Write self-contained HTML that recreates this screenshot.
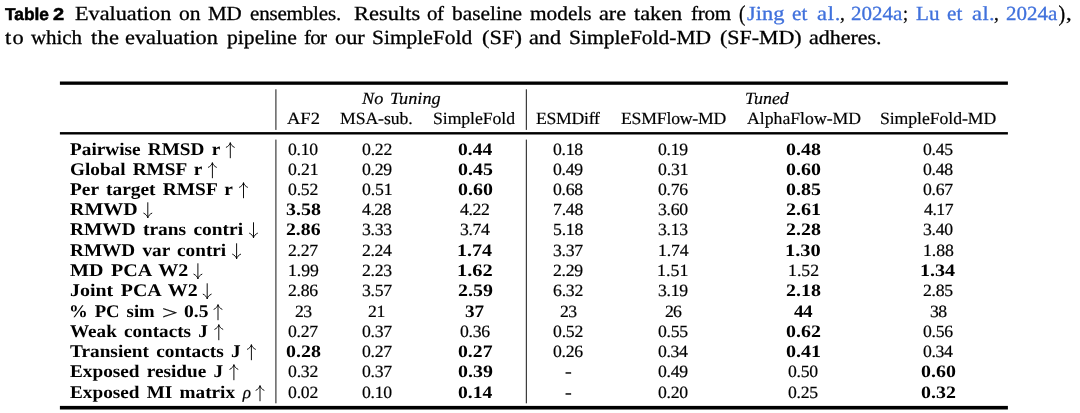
<!DOCTYPE html>
<html><head><meta charset="utf-8"><title>Table 2</title>
<style>
html,body{margin:0;padding:0;background:#fff;}
body{width:1080px;height:413px;position:relative;overflow:hidden;font-family:"Liberation Serif",serif;color:#000;}
.t{position:absolute;white-space:pre;line-height:1;transform-origin:0 50%;-webkit-text-stroke:0.2px currentColor;text-rendering:geometricPrecision;}
.c{-webkit-text-stroke:0.3px currentColor;}
.b{font-weight:bold;-webkit-text-stroke:0;}
.i{font-style:italic;}
.s{font-family:"Liberation Sans",sans-serif;-webkit-text-stroke:0.5px currentColor;}
.ln{position:absolute;background:#000;}
svg{position:absolute;overflow:visible;}
#w{position:absolute;left:0;top:0;width:1080px;height:413px;will-change:transform;}
</style></head><body><div id="w">
<div class="t b s" style="left:4.95px;top:6px;font-size:17.2px;transform:scaleX(1.0082);">Table</div>
<div class="t b s" style="left:53.02px;top:6px;font-size:17.2px;transform:scaleX(1.1647);">2</div>
<div class="t c" style="left:74.94px;top:4px;font-size:20px;transform:scaleX(1.1108);">Evaluation</div>
<div class="t c" style="left:178.69px;top:4px;font-size:20px;transform:scaleX(1.0789);">on</div>
<div class="t c" style="left:208.22px;top:4px;font-size:20px;letter-spacing:-0.048px;transform:scaleX(1.0500);">MD</div>
<div class="t c" style="left:249.71px;top:4px;font-size:20px;letter-spacing:-0.165px;transform:scaleX(1.0500);">ensembles.</div>
<div class="t c" style="left:353.94px;top:4px;font-size:20px;letter-spacing:0.048px;transform:scaleX(1.1200);">Results</div>
<div class="t c" style="left:426.71px;top:4px;font-size:20px;letter-spacing:-0.524px;transform:scaleX(1.0500);">of</div>
<div class="t c" style="left:452.00px;top:4px;font-size:20px;transform:scaleX(1.0695);">baseline</div>
<div class="t c" style="left:529.67px;top:4px;font-size:20px;transform:scaleX(1.0673);">models</div>
<div class="t c" style="left:598.67px;top:4px;font-size:20px;transform:scaleX(1.1087);">are</div>
<div class="t c" style="left:634.22px;top:4px;font-size:20px;transform:scaleX(1.1111);">taken</div>
<div class="t c" style="left:690.73px;top:4px;font-size:20px;letter-spacing:-0.206px;transform:scaleX(1.0500);">from</div>
<div class="t c" style="left:739.29px;top:4px;font-size:20px;transform:scale(0.9524,1.130);transform-origin:0 10.8px;">(</div>
<div class="t c" style="left:747.44px;top:4px;font-size:20px;letter-spacing:0.060px;transform:scaleX(1.1200);color:#4071dc;">Jing</div>
<div class="t c" style="left:792.21px;top:4px;font-size:20px;transform:scaleX(1.0593);color:#4071dc;">et</div>
<div class="t c" style="left:816.56px;top:4px;font-size:20px;letter-spacing:0.705px;transform:scaleX(1.1200);color:#4071dc;">al.</div>
<div class="t c" style="left:839.57px;top:4px;font-size:20px;transform:scaleX(0.9667);">,</div>
<div class="t c" style="left:851.01px;top:4px;font-size:20px;transform:scaleX(1.0513);color:#4071dc;">2024a</div>
<div class="t c" style="left:902.60px;top:4px;font-size:20px;transform:scaleX(0.9000);">;</div>
<div class="t c" style="left:915.87px;top:4px;font-size:20px;transform:scaleX(1.0541);color:#4071dc;">Lu</div>
<div class="t c" style="left:947.21px;top:4px;font-size:20px;transform:scaleX(1.0593);color:#4071dc;">et</div>
<div class="t c" style="left:971.56px;top:4px;font-size:20px;letter-spacing:0.393px;transform:scaleX(1.1200);color:#4071dc;">al.</div>
<div class="t c" style="left:993.77px;top:4px;font-size:20px;transform:scaleX(0.9667);">,</div>
<div class="t c" style="left:1006.01px;top:4px;font-size:20px;transform:scaleX(1.0513);color:#4071dc;">2024a</div>
<div class="t c" style="left:1058.55px;top:4px;font-size:20px;transform:scale(1.0000,1.130);transform-origin:0 10.8px;">)</div>
<div class="t c" style="left:1066.35px;top:4px;font-size:20px;transform:scaleX(1.1333);">,</div>
<div class="t c" style="left:5.32px;top:28px;font-size:20px;letter-spacing:1.125px;transform:scaleX(1.1200);">to</div>
<div class="t c" style="left:31.25px;top:28px;font-size:20px;letter-spacing:-0.065px;transform:scaleX(1.0500);">which</div>
<div class="t c" style="left:90.97px;top:28px;font-size:20px;letter-spacing:0.237px;transform:scaleX(1.1200);">the</div>
<div class="t c" style="left:125.41px;top:28px;font-size:20px;transform:scaleX(1.1155);">evaluation</div>
<div class="t c" style="left:227.23px;top:28px;font-size:20px;transform:scaleX(1.0827);">pipeline</div>
<div class="t c" style="left:303.98px;top:28px;font-size:20px;letter-spacing:-0.661px;transform:scaleX(1.0500);">for</div>
<div class="t c" style="left:335.41px;top:28px;font-size:20px;transform:scaleX(1.1165);">our</div>
<div class="t c" style="left:372.41px;top:28px;font-size:20px;transform:scaleX(1.0734);">SimpleFold</div>
<div class="t c" style="left:482.16px;top:28px;font-size:20px;letter-spacing:0.051px;transform:scaleX(1.1200);">(SF)</div>
<div class="t c" style="left:529.17px;top:28px;font-size:20px;transform:scaleX(1.1071);">and</div>
<div class="t c" style="left:568.66px;top:28px;font-size:20px;transform:scaleX(1.0749);">SimpleFold-MD</div>
<div class="t c" style="left:720.43px;top:28px;font-size:20px;transform:scaleX(1.0962);">(SF-MD)</div>
<div class="t c" style="left:809.38px;top:28px;font-size:20px;transform:scaleX(1.0984);">adheres.</div>
<div class="t i" style="left:362.00px;top:90px;font-size:17.2px;word-spacing:2px;transform:scaleX(1.0612);">No Tuning</div>
<div class="t i" style="left:744.95px;top:90px;font-size:17.2px;transform:scaleX(1.0429);">Tuned</div>
<div class="t" style="left:287.23px;top:110px;font-size:17.2px;transform:scaleX(1.0763);">AF2</div>
<div class="t" style="left:340.24px;top:110px;font-size:17.2px;letter-spacing:-0.081px;transform:scaleX(1.0300);">MSA-sub.</div>
<div class="t" style="left:433.21px;top:110px;font-size:17.2px;letter-spacing:-0.066px;transform:scaleX(1.0300);">SimpleFold</div>
<div class="t" style="left:536.49px;top:110px;font-size:17.2px;letter-spacing:-0.267px;transform:scaleX(1.0300);">ESMDiff</div>
<div class="t" style="left:620.74px;top:110px;font-size:17.2px;letter-spacing:-0.198px;transform:scaleX(1.0300);">ESMFlow-MD</div>
<div class="t" style="left:746.74px;top:110px;font-size:17.2px;transform:scaleX(1.0300);">AlphaFlow-MD</div>
<div class="t" style="left:879.96px;top:110px;font-size:17.2px;letter-spacing:-0.069px;transform:scaleX(1.0300);">SimpleFold-MD</div>
<div class="t b" style="left:70.23px;top:141px;font-size:17.8px;word-spacing:2.2px;transform:scaleX(1.0826);">Pairwise RMSD r</div>
<div class="t" style="left:288.28px;top:141px;font-size:17.2px;letter-spacing:-0.295px;transform:scaleX(1.0300);">0.10</div>
<div class="t" style="left:361.98px;top:141px;font-size:17.2px;letter-spacing:-0.212px;transform:scaleX(1.0300);">0.22</div>
<div class="t b" style="left:457.56px;top:141px;font-size:17.4px;transform:scaleX(1.1254);">0.44</div>
<div class="t" style="left:553.48px;top:141px;font-size:17.2px;letter-spacing:-0.295px;transform:scaleX(1.0300);">0.18</div>
<div class="t" style="left:658.28px;top:141px;font-size:17.2px;letter-spacing:-0.295px;transform:scaleX(1.0300);">0.19</div>
<div class="t b" style="left:786.14px;top:141px;font-size:17.4px;transform:scaleX(1.1448);">0.48</div>
<div class="t" style="left:923.28px;top:141px;font-size:17.2px;letter-spacing:-0.295px;transform:scaleX(1.0300);">0.45</div>
<div class="t b" style="left:69.69px;top:161px;font-size:17.8px;word-spacing:2.2px;transform:scaleX(1.0812);">Global RMSF r</div>
<div class="t" style="left:288.28px;top:161px;font-size:17.2px;letter-spacing:-0.129px;transform:scaleX(1.0300);">0.21</div>
<div class="t" style="left:361.98px;top:161px;font-size:17.2px;letter-spacing:-0.295px;transform:scaleX(1.0300);">0.29</div>
<div class="t b" style="left:457.54px;top:161px;font-size:17.4px;transform:scaleX(1.1448);">0.45</div>
<div class="t" style="left:553.48px;top:161px;font-size:17.2px;letter-spacing:-0.295px;transform:scaleX(1.0300);">0.49</div>
<div class="t" style="left:658.28px;top:161px;font-size:17.2px;letter-spacing:-0.129px;transform:scaleX(1.0300);">0.31</div>
<div class="t b" style="left:786.14px;top:161px;font-size:17.4px;transform:scaleX(1.1448);">0.60</div>
<div class="t" style="left:923.28px;top:161px;font-size:17.2px;letter-spacing:-0.295px;transform:scaleX(1.0300);">0.48</div>
<div class="t b" style="left:70.23px;top:181px;font-size:17.8px;word-spacing:2.2px;transform:scaleX(1.0911);">Per target RMSF r</div>
<div class="t" style="left:288.28px;top:181px;font-size:17.2px;letter-spacing:-0.212px;transform:scaleX(1.0300);">0.52</div>
<div class="t" style="left:361.98px;top:181px;font-size:17.2px;letter-spacing:-0.129px;transform:scaleX(1.0300);">0.51</div>
<div class="t b" style="left:457.54px;top:181px;font-size:17.4px;transform:scaleX(1.1448);">0.60</div>
<div class="t" style="left:553.48px;top:181px;font-size:17.2px;letter-spacing:-0.295px;transform:scaleX(1.0300);">0.68</div>
<div class="t" style="left:658.28px;top:181px;font-size:17.2px;letter-spacing:-0.295px;transform:scaleX(1.0300);">0.76</div>
<div class="t b" style="left:786.14px;top:181px;font-size:17.4px;transform:scaleX(1.1448);">0.85</div>
<div class="t" style="left:923.28px;top:181px;font-size:17.2px;letter-spacing:-0.295px;transform:scaleX(1.0300);">0.67</div>
<div class="t b" style="left:70.22px;top:201px;font-size:17.8px;word-spacing:2.2px;transform:scaleX(1.1237);">RMWD</div>
<div class="t b" style="left:285.94px;top:201px;font-size:17.4px;transform:scaleX(1.1448);">3.58</div>
<div class="t" style="left:362.49px;top:201px;font-size:17.2px;letter-spacing:-0.462px;transform:scaleX(1.0300);">4.28</div>
<div class="t" style="left:460.39px;top:201px;font-size:17.2px;letter-spacing:-0.379px;transform:scaleX(1.0300);">4.22</div>
<div class="t" style="left:553.22px;top:201px;font-size:17.2px;letter-spacing:-0.212px;transform:scaleX(1.0300);">7.48</div>
<div class="t" style="left:658.28px;top:201px;font-size:17.2px;letter-spacing:-0.295px;transform:scaleX(1.0300);">3.60</div>
<div class="t b" style="left:786.13px;top:201px;font-size:17.4px;transform:scaleX(1.1548);">2.61</div>
<div class="t" style="left:923.79px;top:201px;font-size:17.2px;letter-spacing:-0.462px;transform:scaleX(1.0300);">4.17</div>
<div class="t b" style="left:70.23px;top:221px;font-size:17.8px;word-spacing:2.2px;transform:scaleX(1.0918);">RMWD trans contri</div>
<div class="t b" style="left:285.95px;top:221px;font-size:17.4px;transform:scaleX(1.1350);">2.86</div>
<div class="t" style="left:361.98px;top:221px;font-size:17.2px;letter-spacing:-0.295px;transform:scaleX(1.0300);">3.33</div>
<div class="t" style="left:459.88px;top:221px;font-size:17.2px;letter-spacing:-0.379px;transform:scaleX(1.0300);">3.74</div>
<div class="t" style="left:553.22px;top:221px;font-size:17.2px;letter-spacing:-0.212px;transform:scaleX(1.0300);">5.18</div>
<div class="t" style="left:658.28px;top:221px;font-size:17.2px;letter-spacing:-0.295px;transform:scaleX(1.0300);">3.13</div>
<div class="t b" style="left:786.14px;top:221px;font-size:17.4px;transform:scaleX(1.1448);">2.28</div>
<div class="t" style="left:923.28px;top:221px;font-size:17.2px;letter-spacing:-0.295px;transform:scaleX(1.0300);">3.40</div>
<div class="t b" style="left:70.23px;top:242px;font-size:17.8px;word-spacing:2.2px;transform:scaleX(1.0824);">RMWD var contri</div>
<div class="t" style="left:288.28px;top:242px;font-size:17.2px;letter-spacing:-0.295px;transform:scaleX(1.0300);">2.27</div>
<div class="t" style="left:361.98px;top:242px;font-size:17.2px;letter-spacing:-0.379px;transform:scaleX(1.0300);">2.24</div>
<div class="t b" style="left:456.67px;top:242px;font-size:17.4px;transform:scaleX(1.1548);">1.74</div>
<div class="t" style="left:553.48px;top:242px;font-size:17.2px;letter-spacing:-0.295px;transform:scaleX(1.0300);">3.37</div>
<div class="t" style="left:657.50px;top:242px;font-size:17.2px;letter-spacing:-0.129px;transform:scaleX(1.0300);">1.74</div>
<div class="t b" style="left:785.24px;top:242px;font-size:17.4px;transform:scaleX(1.1752);">1.30</div>
<div class="t" style="left:922.50px;top:242px;font-size:17.2px;letter-spacing:-0.045px;transform:scaleX(1.0300);">1.88</div>
<div class="t b" style="left:70.22px;top:262px;font-size:17.8px;word-spacing:2.2px;transform:scaleX(1.1277);">MD PCA W2</div>
<div class="t" style="left:287.50px;top:262px;font-size:17.2px;letter-spacing:-0.045px;transform:scaleX(1.0300);">1.99</div>
<div class="t" style="left:361.98px;top:262px;font-size:17.2px;letter-spacing:-0.295px;transform:scaleX(1.0300);">2.23</div>
<div class="t b" style="left:456.64px;top:262px;font-size:17.4px;transform:scaleX(1.1752);">1.62</div>
<div class="t" style="left:553.48px;top:262px;font-size:17.2px;letter-spacing:-0.295px;transform:scaleX(1.0300);">2.29</div>
<div class="t" style="left:657.48px;top:262px;font-size:17.2px;transform:scaleX(1.0436);">1.51</div>
<div class="t" style="left:787.70px;top:262px;font-size:17.2px;transform:scaleX(1.0342);">1.52</div>
<div class="t b" style="left:920.07px;top:262px;font-size:17.4px;transform:scaleX(1.1548);">1.34</div>
<div class="t b" style="left:69.66px;top:282px;font-size:17.8px;word-spacing:2.2px;transform:scaleX(1.1225);">Joint PCA W2</div>
<div class="t" style="left:288.28px;top:282px;font-size:17.2px;letter-spacing:-0.295px;transform:scaleX(1.0300);">2.86</div>
<div class="t" style="left:361.98px;top:282px;font-size:17.2px;letter-spacing:-0.295px;transform:scaleX(1.0300);">3.57</div>
<div class="t b" style="left:457.54px;top:282px;font-size:17.4px;transform:scaleX(1.1448);">2.59</div>
<div class="t" style="left:553.48px;top:282px;font-size:17.2px;letter-spacing:-0.212px;transform:scaleX(1.0300);">6.32</div>
<div class="t" style="left:658.28px;top:282px;font-size:17.2px;letter-spacing:-0.295px;transform:scaleX(1.0300);">3.19</div>
<div class="t b" style="left:786.14px;top:282px;font-size:17.4px;transform:scaleX(1.1448);">2.18</div>
<div class="t" style="left:923.28px;top:282px;font-size:17.2px;letter-spacing:-0.295px;transform:scaleX(1.0300);">2.85</div>
<div class="t b" style="left:68.66px;top:303px;font-size:17.8px;word-spacing:2.2px;transform:scaleX(1.0516);">% PC sim</div>
<div class="t" style="left:162.29px;top:305px;font-size:18.7px;transform:scaleX(1.5086);">&gt;</div>
<div class="t b" style="left:183.78px;top:303px;font-size:17.8px;letter-spacing:-0.011px;transform:scaleX(1.1000);">0.5</div>
<div class="t" style="left:294.78px;top:303px;font-size:17.2px;letter-spacing:-0.507px;transform:scaleX(1.0300);">23</div>
<div class="t" style="left:368.48px;top:303px;font-size:17.2px;letter-spacing:-0.257px;transform:scaleX(1.0300);">21</div>
<div class="t b" style="left:465.22px;top:303px;font-size:17.4px;transform:scaleX(1.1015);">37</div>
<div class="t" style="left:559.98px;top:303px;font-size:17.2px;letter-spacing:-0.507px;transform:scaleX(1.0300);">23</div>
<div class="t" style="left:664.78px;top:303px;font-size:17.2px;letter-spacing:-0.757px;transform:scaleX(1.0300);">26</div>
<div class="t b" style="left:794.38px;top:303px;font-size:17.4px;letter-spacing:-0.477px;transform:scaleX(1.1000);">44</div>
<div class="t" style="left:929.78px;top:303px;font-size:17.2px;letter-spacing:-0.507px;transform:scaleX(1.0300);">38</div>
<div class="t b" style="left:70.23px;top:323px;font-size:17.8px;word-spacing:2.2px;transform:scaleX(1.0774);">Weak contacts J</div>
<div class="t" style="left:288.28px;top:323px;font-size:17.2px;letter-spacing:-0.295px;transform:scaleX(1.0300);">0.27</div>
<div class="t" style="left:361.98px;top:323px;font-size:17.2px;letter-spacing:-0.295px;transform:scaleX(1.0300);">0.37</div>
<div class="t" style="left:459.88px;top:323px;font-size:17.2px;letter-spacing:-0.295px;transform:scaleX(1.0300);">0.36</div>
<div class="t" style="left:553.48px;top:323px;font-size:17.2px;letter-spacing:-0.212px;transform:scaleX(1.0300);">0.52</div>
<div class="t" style="left:658.28px;top:323px;font-size:17.2px;letter-spacing:-0.295px;transform:scaleX(1.0300);">0.55</div>
<div class="t b" style="left:786.14px;top:323px;font-size:17.4px;transform:scaleX(1.1448);">0.62</div>
<div class="t" style="left:923.28px;top:323px;font-size:17.2px;letter-spacing:-0.295px;transform:scaleX(1.0300);">0.56</div>
<div class="t b" style="left:70.23px;top:343px;font-size:17.8px;word-spacing:2.2px;transform:scaleX(1.0850);">Transient contacts J</div>
<div class="t b" style="left:285.94px;top:343px;font-size:17.4px;transform:scaleX(1.1448);">0.28</div>
<div class="t" style="left:361.98px;top:343px;font-size:17.2px;letter-spacing:-0.295px;transform:scaleX(1.0300);">0.27</div>
<div class="t b" style="left:457.55px;top:343px;font-size:17.4px;transform:scaleX(1.1350);">0.27</div>
<div class="t" style="left:553.48px;top:343px;font-size:17.2px;letter-spacing:-0.295px;transform:scaleX(1.0300);">0.26</div>
<div class="t" style="left:658.28px;top:343px;font-size:17.2px;letter-spacing:-0.379px;transform:scaleX(1.0300);">0.34</div>
<div class="t b" style="left:786.13px;top:343px;font-size:17.4px;transform:scaleX(1.1548);">0.41</div>
<div class="t" style="left:923.28px;top:343px;font-size:17.2px;letter-spacing:-0.379px;transform:scaleX(1.0300);">0.34</div>
<div class="t b" style="left:70.23px;top:363px;font-size:17.8px;word-spacing:2.2px;transform:scaleX(1.0828);">Exposed residue J</div>
<div class="t" style="left:288.28px;top:363px;font-size:17.2px;letter-spacing:-0.212px;transform:scaleX(1.0300);">0.32</div>
<div class="t" style="left:361.98px;top:363px;font-size:17.2px;letter-spacing:-0.295px;transform:scaleX(1.0300);">0.37</div>
<div class="t b" style="left:457.54px;top:363px;font-size:17.4px;transform:scaleX(1.1448);">0.39</div>
<div class="t" style="left:565.22px;top:363px;font-size:17.2px;transform:scaleX(1.1765);">-</div>
<div class="t" style="left:658.28px;top:363px;font-size:17.2px;letter-spacing:-0.295px;transform:scaleX(1.0300);">0.49</div>
<div class="t" style="left:788.48px;top:363px;font-size:17.2px;letter-spacing:-0.295px;transform:scaleX(1.0300);">0.50</div>
<div class="t b" style="left:920.94px;top:363px;font-size:17.4px;transform:scaleX(1.1448);">0.60</div>
<div class="t b" style="left:70.23px;top:384px;font-size:17.8px;word-spacing:2.2px;transform:scaleX(1.0818);">Exposed MI matrix</div>
<div class="t i" style="left:242.68px;top:384px;font-size:17.2px;">ρ</div>
<div class="t" style="left:288.28px;top:384px;font-size:17.2px;letter-spacing:-0.212px;transform:scaleX(1.0300);">0.02</div>
<div class="t" style="left:361.98px;top:384px;font-size:17.2px;letter-spacing:-0.295px;transform:scaleX(1.0300);">0.10</div>
<div class="t b" style="left:457.56px;top:384px;font-size:17.4px;transform:scaleX(1.1254);">0.14</div>
<div class="t" style="left:565.22px;top:384px;font-size:17.2px;transform:scaleX(1.1765);">-</div>
<div class="t" style="left:658.28px;top:384px;font-size:17.2px;letter-spacing:-0.295px;transform:scaleX(1.0300);">0.20</div>
<div class="t" style="left:788.48px;top:384px;font-size:17.2px;letter-spacing:-0.295px;transform:scaleX(1.0300);">0.25</div>
<div class="t b" style="left:920.94px;top:384px;font-size:17.4px;transform:scaleX(1.1448);">0.32</div>
<svg style="left:0;top:0" width="1080" height="413" viewBox="0 0 1080 413"><rect x="59.9" y="81.5" width="948" height="3.3" fill="#000"/><rect x="59.9" y="132.1" width="948" height="2.4" fill="#000"/><rect x="59.9" y="405.9" width="948" height="3.6" fill="#000"/><rect x="275.35" y="89.3" width="1.1" height="40.6" fill="#2a2a2a"/><rect x="275.35" y="139.6" width="1.1" height="263.7" fill="#2a2a2a"/><rect x="525.8" y="89.3" width="1.1" height="40.6" fill="#2a2a2a"/><rect x="525.8" y="139.6" width="1.1" height="263.7" fill="#2a2a2a"/></svg>
<svg style="left:0;top:0" width="1" height="1"><path d="M230.30 157.80 V143.00 M226.30 147.30 C228.30 146.40 229.90 144.50 230.30 142.70 C230.70 144.50 232.30 146.40 234.30 147.30" fill="none" stroke="#000" stroke-width="0.95" stroke-linecap="round"/></svg>
<svg style="left:0;top:0" width="1" height="1"><path d="M212.40 177.80 V163.00 M208.40 167.30 C210.40 166.40 212.00 164.50 212.40 162.70 C212.80 164.50 214.40 166.40 216.40 167.30" fill="none" stroke="#000" stroke-width="0.95" stroke-linecap="round"/></svg>
<svg style="left:0;top:0" width="1" height="1"><path d="M243.50 197.80 V183.00 M239.50 187.30 C241.50 186.40 243.10 184.50 243.50 182.70 C243.90 184.50 245.50 186.40 247.50 187.30" fill="none" stroke="#000" stroke-width="0.95" stroke-linecap="round"/></svg>
<svg style="left:0;top:0" width="1" height="1"><path d="M147.80 202.70 V217.50 M143.80 213.20 C145.80 214.10 147.40 216.00 147.80 217.80 C148.20 216.00 149.80 214.10 151.80 213.20" fill="none" stroke="#000" stroke-width="0.95" stroke-linecap="round"/></svg>
<svg style="left:0;top:0" width="1" height="1"><path d="M253.50 222.70 V237.50 M249.50 233.20 C251.50 234.10 253.10 236.00 253.50 237.80 C253.90 236.00 255.50 234.10 257.50 233.20" fill="none" stroke="#000" stroke-width="0.95" stroke-linecap="round"/></svg>
<svg style="left:0;top:0" width="1" height="1"><path d="M236.60 243.70 V258.50 M232.60 254.20 C234.60 255.10 236.20 257.00 236.60 258.80 C237.00 257.00 238.60 255.10 240.60 254.20" fill="none" stroke="#000" stroke-width="0.95" stroke-linecap="round"/></svg>
<svg style="left:0;top:0" width="1" height="1"><path d="M197.90 263.70 V278.50 M193.90 274.20 C195.90 275.10 197.50 277.00 197.90 278.80 C198.30 277.00 199.90 275.10 201.90 274.20" fill="none" stroke="#000" stroke-width="0.95" stroke-linecap="round"/></svg>
<svg style="left:0;top:0" width="1" height="1"><path d="M207.20 283.70 V298.50 M203.20 294.20 C205.20 295.10 206.80 297.00 207.20 298.80 C207.60 297.00 209.20 295.10 211.20 294.20" fill="none" stroke="#000" stroke-width="0.95" stroke-linecap="round"/></svg>
<svg style="left:0;top:0" width="1" height="1"><path d="M218.00 319.80 V305.00 M214.00 309.30 C216.00 308.40 217.60 306.50 218.00 304.70 C218.40 306.50 220.00 308.40 222.00 309.30" fill="none" stroke="#000" stroke-width="0.95" stroke-linecap="round"/></svg>
<svg style="left:0;top:0" width="1" height="1"><path d="M218.80 339.80 V325.00 M214.80 329.30 C216.80 328.40 218.40 326.50 218.80 324.70 C219.20 326.50 220.80 328.40 222.80 329.30" fill="none" stroke="#000" stroke-width="0.95" stroke-linecap="round"/></svg>
<svg style="left:0;top:0" width="1" height="1"><path d="M251.40 359.80 V345.00 M247.40 349.30 C249.40 348.40 251.00 346.50 251.40 344.70 C251.80 346.50 253.40 348.40 255.40 349.30" fill="none" stroke="#000" stroke-width="0.95" stroke-linecap="round"/></svg>
<svg style="left:0;top:0" width="1" height="1"><path d="M233.90 379.80 V365.00 M229.90 369.30 C231.90 368.40 233.50 366.50 233.90 364.70 C234.30 366.50 235.90 368.40 237.90 369.30" fill="none" stroke="#000" stroke-width="0.95" stroke-linecap="round"/></svg>
<svg style="left:0;top:0" width="1" height="1"><path d="M260.00 400.80 V386.00 M256.00 390.30 C258.00 389.40 259.60 387.50 260.00 385.70 C260.40 387.50 262.00 389.40 264.00 390.30" fill="none" stroke="#000" stroke-width="0.95" stroke-linecap="round"/></svg>
</div></body></html>
